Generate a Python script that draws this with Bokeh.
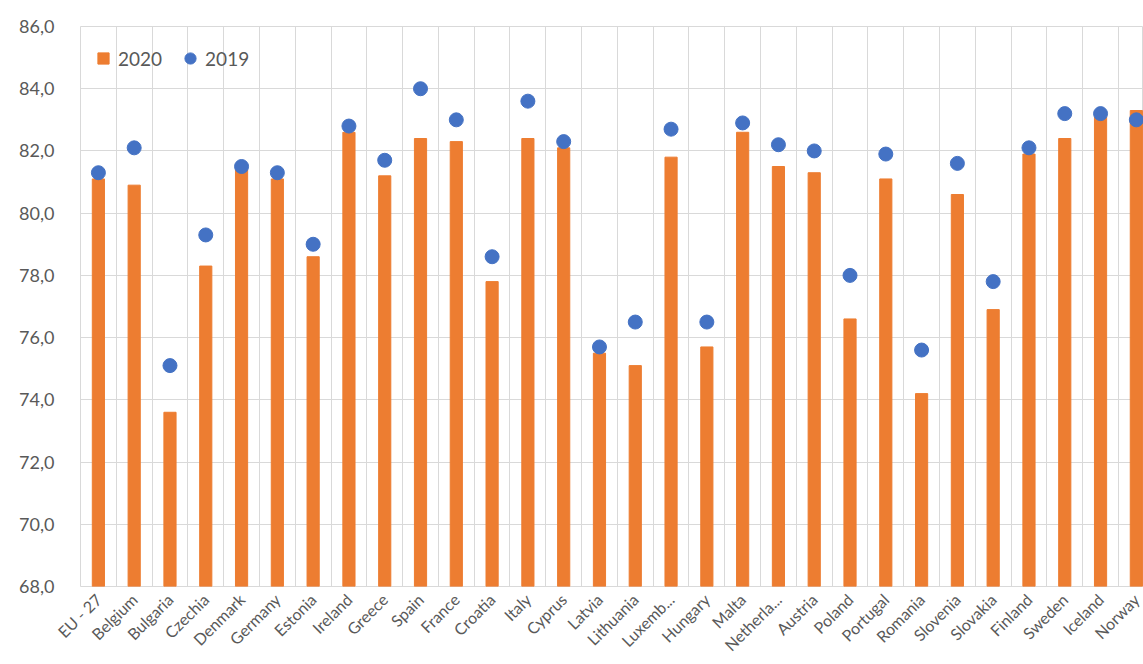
from bokeh.plotting import figure
from bokeh.models import Range1d, FixedTicker, ColumnDataSource, Legend, LegendItem
from bokeh.embed import file_html
from bokeh.resources import INLINE

countries = ["EU - 27", "Belgium", "Bulgaria", "Czechia", "Denmark", "Germany", "Estonia",
             "Ireland", "Greece", "Spain", "France", "Croatia", "Italy", "Cyprus", "Latvia",
             "Lithuania", "Luxemb...", "Hungary", "Malta", "Netherla...", "Austria", "Poland",
             "Portugal", "Romania", "Slovenia", "Slovakia", "Finland", "Sweden", "Iceland", "Norway"]
v2020 = [81.1, 80.9, 73.6, 78.3, 81.4, 81.1, 78.6, 82.6, 81.2, 82.4, 82.3, 77.8, 82.4, 82.1, 75.5,
         75.1, 81.8, 75.7, 82.6, 81.5, 81.3, 76.6, 81.1, 74.2, 80.6, 76.9, 81.9, 82.4, 83.1, 83.3]
v2019 = [81.3, 82.1, 75.1, 79.3, 81.5, 81.3, 79.0, 82.8, 81.7, 84.0, 83.0, 78.6, 83.6, 82.3, 75.7,
         76.5, 82.7, 76.5, 82.9, 82.2, 82.0, 78.0, 81.9, 75.6, 81.6, 77.8, 82.1, 83.2, 83.2, 83.0]
y_ticks = [68, 70, 72, 74, 76, 78, 80, 82, 84, 86]
series_names = ["2020", "2019"]

xs = list(range(len(countries)))
src = ColumnDataSource(dict(x=xs, c=countries, a=v2020, b=v2019))

FONT = "Lato"
GRAY = "#595959"
GRID = "#d9d9d9"
ORANGE = "#ED7D31"
BLUE = "#4472C4"

p = figure(width=1143, height=664, output_backend="svg", toolbar_location=None,
           x_range=Range1d(-0.5, len(countries) - 0.8), y_range=Range1d(68, 86),
           min_border_left=80, min_border_right=0, min_border_top=26, min_border_bottom=77)

p.vbar(x="x", top="a", bottom=68, width=0.34, color=ORANGE, source=src)
p.scatter(x="x", y="b", size=14, color=BLUE, source=src)

# legend-only markers (no data)
nan = float("nan")
leg_a = p.scatter(x=[nan], y=[nan], marker="square", color=ORANGE)
leg_b = p.scatter(x=[nan], y=[nan], marker="circle", color=BLUE)

p.xaxis.ticker = FixedTicker(ticks=xs)
p.xaxis.major_label_overrides = {i: c for i, c in enumerate(countries)}
p.xaxis.major_label_orientation = 0.785
p.yaxis.ticker = FixedTicker(ticks=y_ticks)
p.yaxis.major_label_overrides = {t: f"{t},0" for t in y_ticks}

for ax in (p.xaxis[0], p.yaxis[0]):
    ax.major_label_text_font = FONT
    ax.major_label_text_color = GRAY
    ax.major_tick_line_color = None
    ax.minor_tick_line_color = None
    ax.axis_line_color = None
p.xaxis.major_label_text_font_size = "16px"
p.yaxis.major_label_text_font_size = "18px"
p.yaxis.major_label_standoff = 20
p.xaxis.major_label_standoff = 4

p.xgrid.ticker = FixedTicker(ticks=[i + 0.5 for i in range(len(countries))])
p.xgrid.grid_line_color = GRID
p.ygrid.grid_line_color = GRID
p.outline_line_color = GRID

legend = Legend(items=[LegendItem(label=series_names[0], renderers=[leg_a]),
                       LegendItem(label=series_names[1], renderers=[leg_b])],
                location=(9, 514), orientation="horizontal",
                label_text_font=FONT, label_text_font_size="19px", label_text_color=GRAY,
                background_fill_alpha=0, border_line_color=None,
                glyph_width=28, glyph_height=28, spacing=14, label_standoff=1,
                margin=0, padding=0)
p.add_layout(legend)

open("out.html", "w").write(file_html(p, INLINE))
